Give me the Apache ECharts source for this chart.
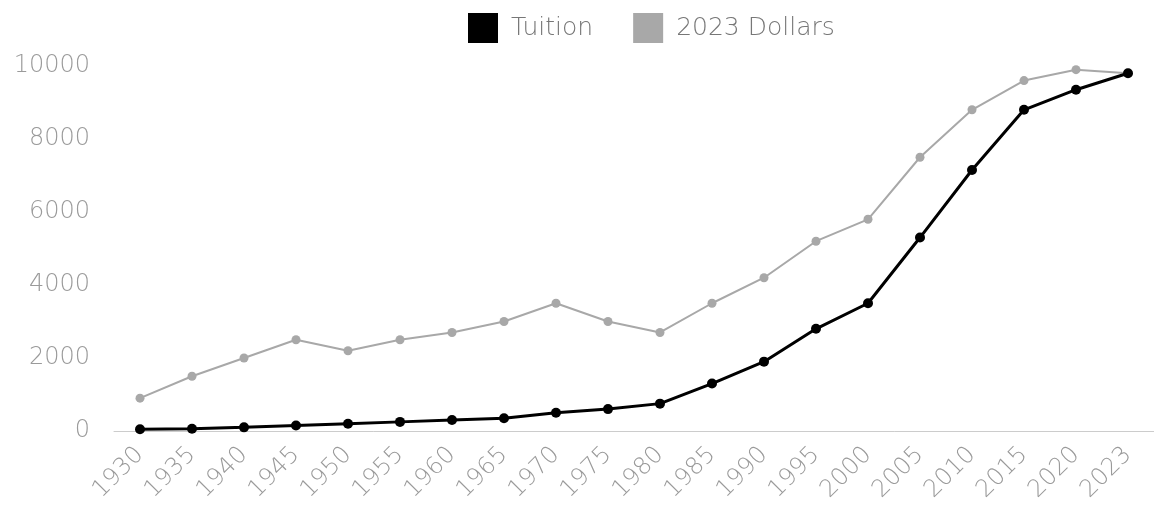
<!DOCTYPE html>
<html>
<head>
<meta charset="utf-8">
<script src="https://cdn.jsdelivr.net/npm/echarts@6/dist/echarts.min.js"></script>
<style>
html, body { margin: 0; padding: 0; background: #fff; }
#chart { width: 1154px; height: 517px; }
</style>
</head>
<body>
<div id="chart"></div>
<script>
// years on the x axis
const years = ['1930', '1935', '1940', '1945', '1950', '1955', '1960', '1965', '1970', '1975',
    '1980', '1985', '1990', '1995', '2000', '2005', '2010', '2015', '2020', '2023']
// nominal tuition
const tuition = [50, 60, 100, 150, 200, 250, 300, 350, 500, 600,
    750, 1300, 1900, 2800, 3500, 5300, 7150, 8800, 9350, 9800]
// tuition in 2023 dollars
const dollars2023 = [900, 1500, 2000, 2500, 2200, 2500, 2700, 3000, 3500, 3000,
    2700, 3500, 4200, 5200, 5800, 7500, 8800, 9600, 9900, 9800]

const labelFont = { fontFamily: 'DejaVu Sans', fontWeight: 200, color: '#9a9a9a', fontSize: 24 }

const chart = echarts.init(document.getElementById('chart'))
chart.setOption({
    animation: false,
    legend: {
        top: 8,
        left: 463,
        icon: 'rect',
        itemWidth: 30,
        itemHeight: 30,
        itemGap: 40,
        textStyle: { fontFamily: 'DejaVu Sans', fontWeight: 200, color: '#777', fontSize: 25, padding: [0, 0, 0, 8] },
        data: ['Tuition', '2023 Dollars'],
    },
    grid: {
        left: 114,
        top: 66,
        width: 1045,
        bottom: 86,
    },
    xAxis: {
        type: 'category',
        data: years,
        boundaryGap: true,
        axisLine: { lineStyle: { color: '#cccccc', width: 1 } },
        axisTick: { show: false },
        axisLabel: Object.assign({ rotate: 45, margin: 20, interval: 0 }, labelFont),
    },
    yAxis: {
        type: 'value',
        min: 0,
        max: 10000,
        interval: 2000,
        splitLine: { show: false },
        axisLine: { show: false },
        axisTick: { show: false },
        axisLabel: Object.assign({ margin: 24, formatter: v => String(v) }, labelFont),
    },
    series: [
        {
            name: 'Tuition',
            type: 'line',
            data: tuition,
            symbol: 'circle',
            symbolSize: 10,
            z: 3,
            itemStyle: { color: '#000' },
            lineStyle: { color: '#000', width: 3 },
        },
        {
            name: '2023 Dollars',
            type: 'line',
            data: dollars2023,
            symbol: 'circle',
            symbolSize: 9,
            z: 2,
            itemStyle: { color: '#a8a8a8' },
            lineStyle: { color: '#a8a8a8', width: 2 },
        },
    ],
})
</script>
</body>
</html>
